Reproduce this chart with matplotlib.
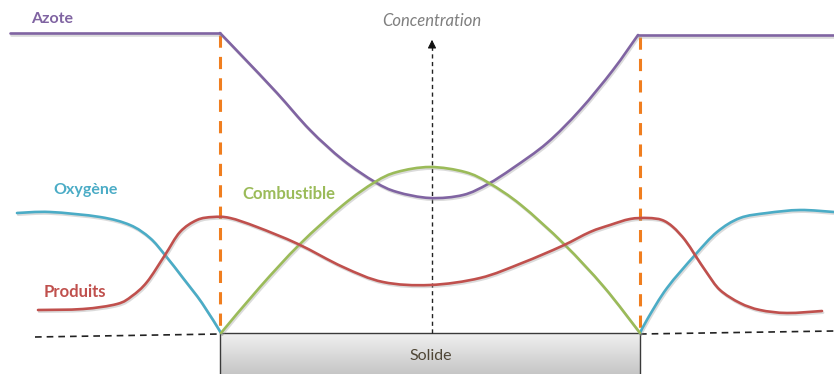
import matplotlib
matplotlib.use("Agg")
import matplotlib.pyplot as plt
import matplotlib.patheffects as pe
from matplotlib.patches import Rectangle, PathPatch
from matplotlib.path import Path
import numpy as np

plt.rcParams['font.family'] = ['Lato', 'DejaVu Sans']

# --- curves (pixel-like units, y downwards) ---
azote_left_x = [10, 220]
azote_left_y = [33, 33]
azote_x = [220, 243, 277, 310, 343, 375, 397, 430, 463, 488, 513, 547, 580, 613, 638]
azote_y = [33, 57, 93, 130, 160, 182, 192, 198, 195, 184, 168, 143, 110, 70, 35]
azote_right_x = [638, 834]
azote_right_y = [35, 35]

oxy_left_x = [17, 50, 100, 130, 150, 165, 183, 202, 221]
oxy_left_y = [213, 212, 217, 225, 238, 255, 278, 303, 333]
oxy_right_x = [640, 648, 667, 695, 717, 740, 767, 800, 834]
oxy_right_y = [333, 318, 288, 255, 232, 218, 213, 210, 212]

comb_x = [221, 260, 300, 343, 375, 397, 430, 465, 489, 521, 564, 604, 640]
comb_y = [333, 287, 244, 205, 182, 172, 167, 172, 183, 205, 244, 287, 333]

prod_x = [38, 83, 117, 132, 147, 165, 180, 197, 213, 230, 257, 298, 343, 383, 430,
          480, 522, 562, 590, 610, 630, 648, 662, 673, 685, 695, 707, 720, 740, 760, 787, 822]
prod_y = [310, 309, 304, 296, 282, 255, 232, 220, 217, 218, 227, 244, 267, 282, 285,
          278, 263, 246, 232, 225, 219, 218, 220, 227, 240, 255, 273, 290, 303, 310, 313, 311]

front_x = [220, 640]
front_top = [35, 37]
base_y = 333
center_x = 432

labels = ["Azote", "Oxygène", "Produits", "Combustible"]
label_pos = [(31, 19), (53, 190), (44, 292), (242, 194)]
colors = ["#8064A2", "#4BACC6", "#C0504D", "#9BBB59"]

fig = plt.figure(figsize=(8.34, 3.74), dpi=100)
ax = fig.add_axes([0, 0, 1, 1])
ax.set_xlim(0, 834)
ax.set_ylim(374, 0)
ax.axis('off')

shadow = [pe.SimpleLineShadow(offset=(0.8, -1.2), shadow_color='#999999', alpha=0.35), pe.Normal()]


def smooth_line(xs, ys, color):
    """Draw a smooth (Catmull-Rom style Bezier) line through the given points."""
    p = np.column_stack([xs, ys]).astype(float)
    n = len(p)
    verts = [p[0]]
    codes = [Path.MOVETO]
    for i in range(n - 1):
        p0 = p[i - 1] if i > 0 else p[i]
        p1 = p[i]
        p2 = p[i + 1]
        p3 = p[i + 2] if i + 2 < n else p[i + 1]
        c1 = p1 + (p2 - p0) / 6.0
        c2 = p2 - (p3 - p1) / 6.0
        verts += [c1, c2, p2]
        codes += [Path.CURVE4] * 3
    patch = PathPatch(Path(verts, codes), fill=False, edgecolor=color, lw=1.9,
                      capstyle='round', joinstyle='round', zorder=4, path_effects=shadow)
    ax.add_patch(patch)


# Solid block with gradient
grad = np.linspace(0, 1, 50).reshape(-1, 1)
ax.imshow(grad, cmap=matplotlib.colors.LinearSegmentedColormap.from_list('g', ['#f0f0f0', '#c4c4c4']),
          extent=[220, 640, 376, base_y], aspect='auto', zorder=1)
ax.add_patch(Rectangle((220, base_y), 420, 45, fill=False, edgecolor='#3a3a3a', lw=1.0, zorder=2))
ax.text(431, 356, "Solide", ha='center', va='center', fontsize=11.5, color='#4f4636', zorder=3)

# baseline dashes
ax.plot([35, 220], [337, 334], ls=(0, (4, 3)), color='#222222', lw=1.2, zorder=2)
ax.plot([640, 834], [334, 331], ls=(0, (4, 3)), color='#222222', lw=1.2, zorder=2)

# central arrow
ax.plot([center_x, center_x], [base_y, 46], ls=(0, (3, 2.5)), color='#222222', lw=1.0, zorder=2)
ax.annotate("", xy=(center_x, 37), xytext=(center_x, 47),
            arrowprops=dict(arrowstyle='-|>,head_width=0.25,head_length=0.5', color='#111111', lw=0.8))
ax.text(center_x, 21, "Concentration", ha='center', va='center', fontsize=12, style='italic', color='#7f7f7f')

# orange front lines
for fx, ft in zip(front_x, front_top):
    ax.plot([fx, fx], [ft, base_y], ls=(0, (4, 3)), color='#F07E1F', lw=2.2, zorder=3)

# curves
ax.plot(azote_left_x, azote_left_y, color=colors[0], lw=1.9, zorder=4, path_effects=shadow, solid_capstyle='round')
ax.plot(azote_right_x, azote_right_y, color=colors[0], lw=1.9, zorder=4, path_effects=shadow, solid_capstyle='round')
smooth_line(azote_x, azote_y, colors[0])
smooth_line(oxy_left_x, oxy_left_y, colors[1])
smooth_line(oxy_right_x, oxy_right_y, colors[1])
smooth_line(comb_x, comb_y, colors[3])
smooth_line(prod_x, prod_y, colors[2])

sizes = [11.5, 11.5, 12, 12]
for lab, (lx, ly), c, s in zip(labels, label_pos, colors, sizes):
    ax.text(lx, ly, lab, ha='left', va='center', fontsize=s, fontweight='bold', color=c)

fig.savefig("out.png", dpi=100)
